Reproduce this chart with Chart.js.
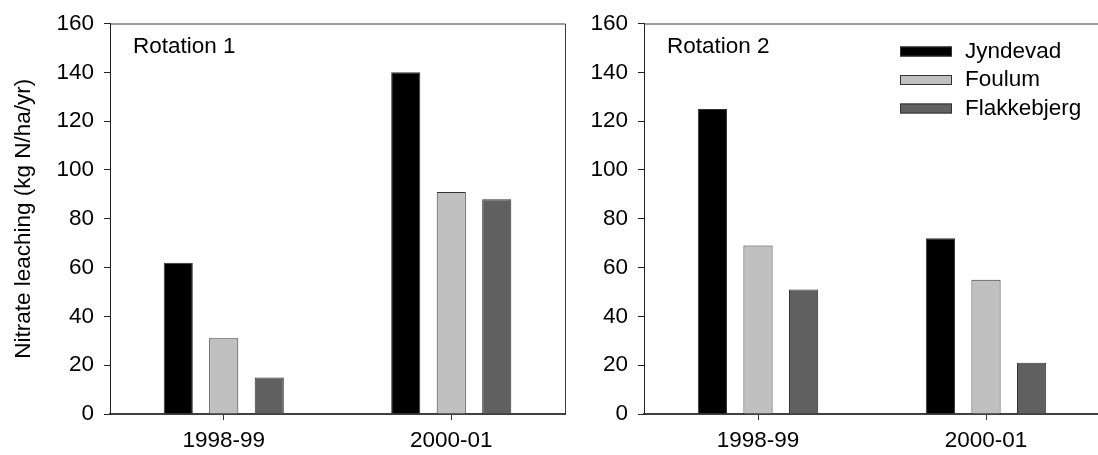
<!DOCTYPE html>
<html>
<head>
<meta charset="utf-8">
<script src="https://cdn.jsdelivr.net/npm/chart.js@4.4.0/dist/chart.umd.min.js"></script>
<style>
  html, body { margin: 0; padding: 0; background: #fff; overflow: hidden; }
  #wrap { position: relative; width: 1098px; height: 455px; overflow: hidden; }
  canvas { position: absolute; top: 0; }
  #left { left: 0; }
  #right { left: 575px; }
</style>
</head>
<body>
<div id="wrap">
  <canvas id="left" width="575" height="455"></canvas>
  <canvas id="right" width="530" height="455"></canvas>
</div>
<script>
// data
const periods = ["1998-99", "2000-01"];
const sites = ["Jyndevad", "Foulum", "Flakkebjerg"];
const siteColors = ["#000000", "#c0c0c0", "#606060"];
const rotation1 = {
  Jyndevad: [62, 140],
  Foulum: [31, 91],
  Flakkebjerg: [15, 88],
};
const rotation2 = {
  Jyndevad: [125, 72],
  Foulum: [69, 55],
  Flakkebjerg: [51, 21],
};
const yTicks = [0, 20, 40, 60, 80, 100, 120, 140, 160];
const yTitle = "Nitrate leaching (kg N/ha/yr)";

const FONT = "'Liberation Sans', Arial, sans-serif";
const FS = 22.5;

Chart.defaults.font.family = FONT;
Chart.defaults.font.size = FS;
Chart.defaults.color = "#000";

// frame (top + right edge) and panel label drawn on the chart area
const panelDeco = {
  id: "panelDeco",
  afterDraw(chart, args, opts) {
    const { ctx, chartArea: a } = chart;
    ctx.save();
    ctx.strokeStyle = "#3a3a3a";
    ctx.lineWidth = 1;
    ctx.beginPath();
    ctx.moveTo(a.left, a.top + 0.5);
    ctx.lineTo(a.right + 0.5, a.top + 0.5);
    ctx.lineTo(a.right + 0.5, a.bottom);
    ctx.stroke();
    ctx.fillStyle = "#000";
    ctx.font = `${FS}px ${FONT}`;
    ctx.textBaseline = "middle";
    ctx.fillText(opts.text, a.left + 23, a.top + 23);
    ctx.restore();
  },
};

// legend drawn inside the plot, top right
const innerLegend = {
  id: "innerLegend",
  afterDraw(chart, args, opts) {
    if (!opts.show) return;
    const { ctx, chartArea: a } = chart;
    ctx.save();
    ctx.font = `${FS}px ${FONT}`;
    ctx.textBaseline = "middle";
    chart.data.datasets.forEach((ds, i) => {
      const y = a.top + 28 + i * 28.5;
      const x = a.left + 256;
      ctx.fillStyle = ds.backgroundColor;
      ctx.fillRect(x, y - 5, 52, 10);
      ctx.strokeStyle = "#333";
      ctx.lineWidth = 1;
      ctx.strokeRect(x + 0.5, y - 4.5, 51, 9);
      ctx.fillStyle = "#000";
      ctx.fillText(ds.label, x + 65, y);
    });
    ctx.restore();
  },
};

function buildPanel(canvasId, series, opts) {
  const ctx = document.getElementById(canvasId);
  return new Chart(ctx, {
    type: "bar",
    data: {
      labels: periods,
      datasets: sites.map((s, i) => ({
        label: s,
        data: series[s],
        backgroundColor: siteColors[i],
        borderColor: "#333",
        borderWidth: 1,
        categoryPercentage: 0.6,
        barPercentage: 0.64,
      })),
    },
    options: {
      responsive: false,
      devicePixelRatio: 1,
      animation: false,
      layout: { padding: { top: 23, right: opts.padRight, bottom: 0, left: 0 } },
      plugins: {
        legend: { display: false },
        tooltip: { enabled: false },
        panelDeco: { text: opts.label },
        innerLegend: { show: opts.legend },
      },
      scales: {
        x: {
          grid: { drawOnChartArea: false, offset: false, tickLength: 6, color: "#333" },
          border: { color: "#404040", width: 2 },
          ticks: { padding: 7, color: "#000", font: { size: FS } },
          afterFit: (s) => { s.height = 41; },
        },
        y: {
          min: 0,
          max: 160,
          afterBuildTicks: (s) => { s.ticks = yTicks.map((v) => ({ value: v })); },
          grid: { drawOnChartArea: false, tickLength: 6, color: "#222" },
          border: { color: "#222", width: 1 },
          ticks: { padding: 10, color: "#000", font: { size: FS } },
          title: {
            display: opts.title,
            text: yTitle,
            color: "#000",
            font: { size: FS },
            padding: { top: 10, bottom: 0 },
          },
          afterFit: (s) => { s.width = opts.yWidth; },
        },
      },
    },
    plugins: [panelDeco, innerLegend],
  });
}

buildPanel("left", rotation1, { label: "Rotation 1", legend: false, title: true, yWidth: 110, padRight: 10 });
buildPanel("right", rotation2, { label: "Rotation 2", legend: true, title: false, yWidth: 69, padRight: 5 });
</script>
</body>
</html>
